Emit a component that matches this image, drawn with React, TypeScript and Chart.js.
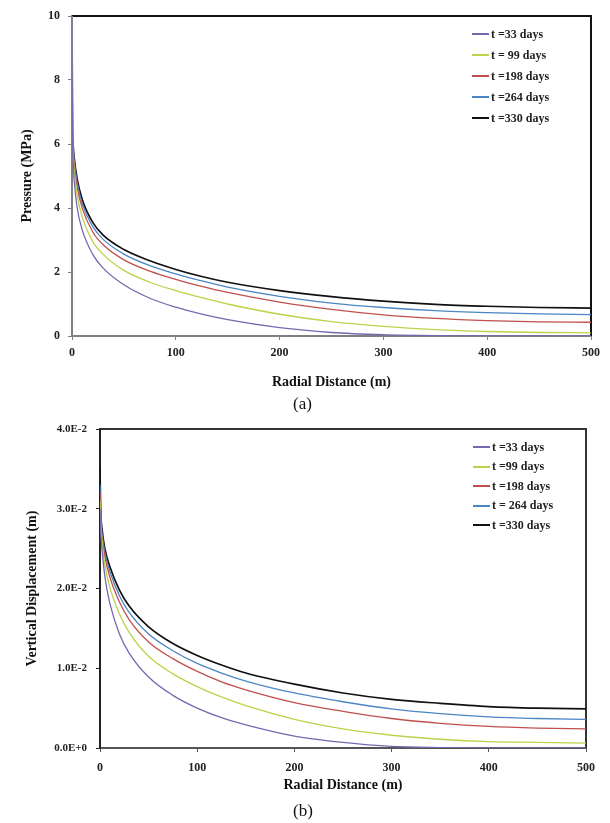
import React, { useEffect, useRef } from "react";
import { Chart, registerables } from "chart.js";

Chart.register(...registerables);

// ---- Data ----
const R = [0, 0.5, 1, 2, 5, 10, 20, 30, 50, 75, 100, 125, 150, 200, 250, 300, 350, 400, 450, 500];

const P33 = [10, 6.0, 5.5, 4.9, 4.0, 3.3, 2.55, 2.12, 1.6, 1.18, 0.9, 0.68, 0.51, 0.26, 0.11, 0.04, 0.01, 0, 0, 0];
const P99 = [10, 6.2, 5.7, 5.2, 4.4, 3.7, 2.95, 2.55, 2.05, 1.68, 1.42, 1.2, 1.0, 0.68, 0.45, 0.3, 0.2, 0.14, 0.11, 0.1];
const P198 = [10, 6.3, 5.8, 5.4, 4.65, 3.98, 3.25, 2.85, 2.38, 2.03, 1.77, 1.55, 1.36, 1.06, 0.83, 0.66, 0.55, 0.48, 0.44, 0.43];
const P264 = [10, 6.4, 5.9, 5.5, 4.8, 4.12, 3.42, 3.02, 2.56, 2.2, 1.94, 1.72, 1.53, 1.24, 1.03, 0.89, 0.79, 0.73, 0.69, 0.67];
const P330 = [10, 6.5, 6.0, 5.6, 4.9, 4.25, 3.55, 3.15, 2.7, 2.35, 2.08, 1.86, 1.68, 1.42, 1.23, 1.09, 0.99, 0.93, 0.89, 0.87];

const D33 = [0.030, 0.028, 0.0265, 0.025, 0.0215, 0.0182, 0.0143, 0.0119, 0.0089, 0.0066, 0.0050, 0.0038, 0.0029, 0.0015, 0.0007, 0.0002, 0.00005, 0, 0, 0];
const D99 = [0.031, 0.029, 0.0275, 0.026, 0.023, 0.0202, 0.0168, 0.0145, 0.0115, 0.0093, 0.0077, 0.0064, 0.0053, 0.0036, 0.0024, 0.0016, 0.0011, 0.0008, 0.0007, 0.0006];
const D198 = [0.032, 0.0295, 0.028, 0.0265, 0.024, 0.0215, 0.0183, 0.0161, 0.0133, 0.0112, 0.0096, 0.0083, 0.0073, 0.0057, 0.0046, 0.0037, 0.0031, 0.0027, 0.0025, 0.0024];
const D264 = [0.033, 0.030, 0.0285, 0.027, 0.0245, 0.0222, 0.0191, 0.0170, 0.0143, 0.0122, 0.0106, 0.0094, 0.0084, 0.0069, 0.0058, 0.0049, 0.0043, 0.0039, 0.0037, 0.0036];
const D330 = [0.0352, 0.031, 0.029, 0.0275, 0.025, 0.0228, 0.0198, 0.0178, 0.0152, 0.0131, 0.0116, 0.0104, 0.0094, 0.0080, 0.0069, 0.0061, 0.0056, 0.0052, 0.0050, 0.0049];

const LABELS_A = ["t =33 days", "t = 99 days", "t =198 days", "t =264 days", "t =330 days"];
const LABELS_B = ["t =33 days", "t =99 days", "t =198 days", "t = 264 days", "t =330 days"];
const COLORS = ["#7a66b0", "#bcd24a", "#c0504d", "#4a86c4", "#111111"];
const WIDTHS = [1.3, 1.3, 1.3, 1.3, 1.7];

const X_TICKS = [0, 100, 200, 300, 400, 500];

const FONT = "'Liberation Serif', 'Times New Roman', serif";

const framePlugin = {
  id: "frame",
  beforeDatasetsDraw(chart: any, _args: any, opts: any) {
    const { ctx, chartArea } = chart;
    const { left, right, top, bottom } = chartArea;
    ctx.save();
    ctx.strokeStyle = opts.color || "#000";
    ctx.lineWidth = opts.width || 2;
    ctx.beginPath();
    ctx.moveTo(left, top);
    ctx.lineTo(right, top);
    ctx.lineTo(right, bottom);
    ctx.stroke();
    ctx.restore();
  },
};

function makeConfig(opts: any) {
  const datasets = opts.series.map((s: number[], i: number) => ({
    label: opts.labels[i],
    data: R.map((r, k) => ({ x: r, y: s[k] })),
    borderColor: COLORS[i],
    backgroundColor: COLORS[i],
    borderWidth: WIDTHS[i],
    pointRadius: 0,
    fill: false,
    cubicInterpolationMode: "monotone",
  }));
  const tickFont = { family: FONT, size: 12, weight: "bold" };
  const titleFont = { family: FONT, size: 14, weight: "bold" };
  return {
    type: "line",
    data: { datasets },
    plugins: [framePlugin],
    options: {
      responsive: false,
      animation: false,
      events: [],
      layout: { padding: opts.padding },
      plugins: {
        legend: { display: false },
        tooltip: { enabled: false },
        frame: { color: opts.frameColor, width: 2 },
      },
      scales: {
        x: {
          type: "linear",
          min: 0,
          max: 500,
          afterBuildTicks: (s: any) => {
            s.ticks = X_TICKS.map((v) => ({ value: v }));
          },
          ticks: { font: tickFont, color: "#222", padding: opts.xTickPad, maxRotation: 0, autoSkip: false },
          grid: { drawOnChartArea: false, drawTicks: true, tickLength: 4, color: opts.xAxisColor },
          border: { color: opts.xAxisColor, width: 2 },
          title: {
            display: true,
            text: "Radial Distance (m)",
            font: titleFont,
            color: "#111",
            padding: { top: 0, bottom: opts.xTitlePad },
          },
          afterFit: (s: any) => {
            s.height = opts.xHeight;
          },
        },
        y: {
          type: "linear",
          min: opts.yMin,
          max: opts.yMax,
          afterBuildTicks: (s: any) => {
            s.ticks = opts.yTicks.map((v: number) => ({ value: v }));
          },
          ticks: {
            font: { family: FONT, size: opts.yTickSize, weight: "bold" },
            color: "#222",
            padding: opts.yTickPad,
            callback: opts.yFormat,
          },
          grid: { drawOnChartArea: false, drawTicks: true, tickLength: 4, color: opts.yAxisColor },
          border: { color: opts.yAxisColor, width: 2 },
          title: {
            display: true,
            text: opts.yTitle,
            font: titleFont,
            color: "#111",
            padding: { top: opts.yTitlePad, bottom: 0 },
          },
          afterFit: (s: any) => {
            s.width = opts.yWidth;
          },
        },
      },
    },
  };
}

function ChartBox(props: { config: any; width: number; height: number; top: number }) {
  const ref = useRef<HTMLCanvasElement>(null);
  useEffect(() => {
    if (!ref.current) return;
    const chart = new Chart(ref.current, props.config);
    return () => chart.destroy();
  }, []);
  return (
    <canvas
      ref={ref}
      width={props.width}
      height={props.height}
      style={{ position: "absolute", left: 0, top: props.top, width: props.width, height: props.height, display: "block" }}
    />
  );
}

function Legend(props: { labels: string[]; left: number; top: number; spacing: number }) {
  return (
    <div style={{ position: "absolute", left: props.left, top: props.top }}>
      {props.labels.map((l, i) => (
        <div
          key={i}
          style={{
            position: "absolute",
            left: 0,
            top: i * props.spacing - 8,
            height: 16,
            display: "flex",
            alignItems: "center",
            whiteSpace: "nowrap",
            fontFamily: FONT,
            fontWeight: "bold",
            fontSize: 12,
            color: "#222",
          }}
        >
          <span style={{ display: "inline-block", width: 17, height: 0, borderTop: `2px solid ${COLORS[i]}`, marginRight: 2 }} />
          <span>{l}</span>
        </div>
      ))}
    </div>
  );
}

const configA = makeConfig({
  series: [P33, P99, P198, P264, P330],
  labels: LABELS_A,
  padding: { left: 0, right: 19, top: 16, bottom: 0 },
  xHeight: 62,
  xTickPad: 6,
  xTitlePad: 7,
  yWidth: 72,
  yTickPad: 8,
  yTickSize: 12,
  yTitlePad: 19,
  yTitle: "Pressure (MPa)",
  yMin: 0,
  yMax: 10,
  yTicks: [0, 2, 4, 6, 8, 10],
  yFormat: (v: any) => String(v),
  xAxisColor: "#808080",
  yAxisColor: "#808080",
  frameColor: "#111",
});

const configB = makeConfig({
  series: [D33, D99, D198, D264, D330],
  labels: LABELS_B,
  padding: { left: 0, right: 24, top: 19, bottom: 0 },
  xHeight: 75,
  xTickPad: 9,
  xTitlePad: 29,
  yWidth: 100,
  yTickPad: 9,
  yTickSize: 11,
  yTitlePad: 24,
  yTitle: "Vertical Displacement (m)",
  yMin: 0,
  yMax: 0.04,
  yTicks: [0, 0.01, 0.02, 0.03, 0.04],
  yFormat: (v: any) => Number(v).toExponential(1).toUpperCase(),
  xAxisColor: "#555",
  yAxisColor: "#222",
  frameColor: "#333",
});

export default function App() {
  return (
    <div style={{ position: "absolute", left: 0, top: 0, width: 610, height: 823, background: "#fff", overflow: "hidden" }}>
      <ChartBox config={configA} width={610} height={398} top={0} />
      <Legend labels={LABELS_A} left={472} top={34} spacing={21} />
      <div style={{ position: "absolute", left: 0, width: 610, top: 394, fontFamily: FONT, fontSize: 17, color: "#111" }}>
        <span style={{ position: "absolute", left: 293 }}>(a)</span>
      </div>
      <ChartBox config={configB} width={610} height={413} top={410} />
      <Legend labels={LABELS_B} left={473} top={447} spacing={19.5} />
      <div style={{ position: "absolute", left: 0, width: 610, top: 801, fontFamily: FONT, fontSize: 17, color: "#111" }}>
        <span style={{ position: "absolute", left: 293 }}>(b)</span>
      </div>
    </div>
  );
}
